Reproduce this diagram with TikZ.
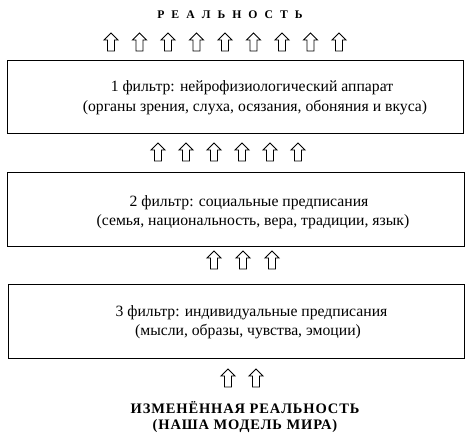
\documentclass[tikz,border=0pt]{standalone}
\usepackage{fontspec}
\setmainfont{Liberation Serif}
\newfontfamily\spacedbold[LetterSpace=60,BoldFont={Liberation Serif Bold}]{Liberation Serif Bold}
\newfontfamily\widebold[LetterSpace=6]{Liberation Serif Bold}
\begin{document}
\begin{tikzpicture}[x=1pt,y=-1pt,
  filterbox/.style={draw,line width=1pt,inner sep=0pt},
  linetext/.style={inner sep=0pt,font=\fontsize{15.7}{18}\selectfont},
  boldtext/.style={inner sep=0pt,font=\fontsize{14.5}{17}\widebold},
  uparrow/.pic={\draw[line width=0.9pt,line join=miter] (0,0) -- (7,7) -- (3.5,7) -- (3.5,18) -- (-3.5,18) -- (-3.5,7) -- (-7,7) -- cycle;}]
\useasboundingbox (0,0) rectangle (469,435);
% title
\node[inner sep=0pt,font=\fontsize{11.7}{14}\selectfont\spacedbold] (title) at (230,15) {РЕАЛЬНОСТЬ};
% top arrows
\foreach \i/\x in {1/111,2/139.5,3/168,4/196.5,5/225,6/253.5,7/282,8/310.5,9/339}
  \pic (ta\i) at (\x,33) {uparrow};
% box 1
\node[filterbox,minimum width=456pt,minimum height=73pt] (box1) at (235,97.5) {};
\node[linetext] (b1l1) at (252,88) {1 фильтр: нейрофизиологический аппарат};
\node[linetext] (b1l2) at (255,108) {(органы зрения, слуха, осязания, обоняния и вкуса)};
% middle arrows
\foreach \i/\x in {1/158,2/186,3/214,4/242,5/270,6/298}
  \pic (ma\i) at (\x,143) {uparrow};
% box 2
\node[filterbox,minimum width=457pt,minimum height=74pt] (box2) at (235.5,210) {};
\node[linetext] (b2l1) at (249,203) {2 фильтр: социальные предписания};
\node[linetext] (b2l2) at (253,222) {(семья, национальность, вера, традиции, язык)};
% lower arrows
\foreach \i/\x in {1/214,2/243,3/272}
  \pic (la\i) at (\x,251) {uparrow};
% box 3
\node[filterbox,minimum width=456pt,minimum height=74pt] (box3) at (236,322) {};
\node[linetext] (b3l1) at (251.5,313) {3 фильтр: индивидуальные предписания};
\node[linetext] (b3l2) at (248,332) {(мысли, образы, чувства, эмоции)};
% bottom arrows
\foreach \i/\x in {1/228,2/256}
  \pic (ba\i) at (\x,369) {uparrow};
% bottom text
\node[boldtext] (res1) at (245,408) {ИЗМЕНЁННАЯ РЕАЛЬНОСТЬ};
\node[boldtext] (res2) at (245,426) {(НАША МОДЕЛЬ МИРА)};
\end{tikzpicture}
\end{document}
